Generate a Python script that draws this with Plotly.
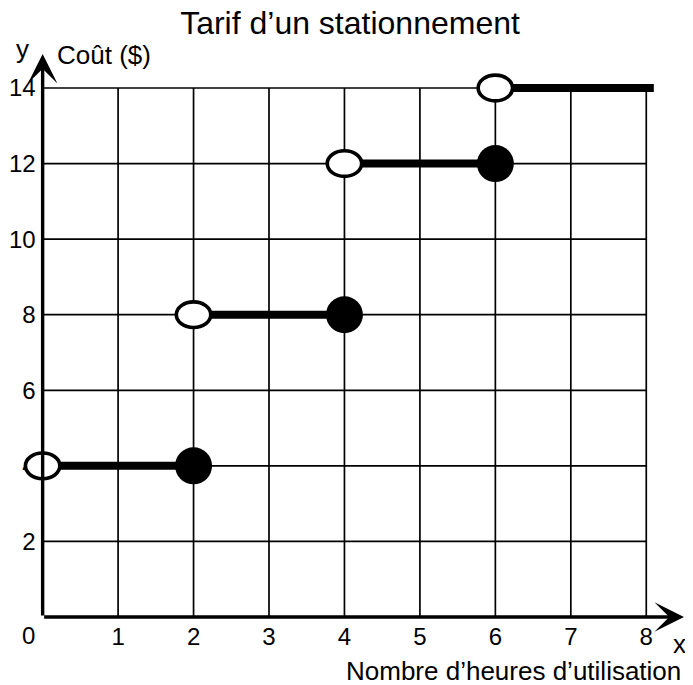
import plotly.graph_objects as go

# ---- data ----
title_text = "Tarif d\u2019un stationnement"
x_label = "Nombre d\u2019heures d\u2019utilisation"
y_label = "Co\u00fbt ($)"
x_ticks = [1, 2, 3, 4, 5, 6, 7, 8]
y_ticks = [2, 4, 6, 8, 10, 12, 14]
seg_start = [0, 2, 4, 6]
seg_end = [2, 4, 6, 8.1]
seg_cost = [4, 8, 12, 14]
open_x = [0, 2, 4, 6]
open_y = [4, 8, 12, 14]
closed_x = [2, 4, 6]
closed_y = [4, 8, 12]

X_MIN, X_MAX = -0.3, 8.5
Y_MAX = 14.9
FONT = "Liberation Sans, Arial, sans-serif"
W, H = 685, 677  # page body adds an 8px offset

fig = go.Figure()

# grid
gx, gy = [], []
for v in x_ticks:
    gx += [v, v, None]
    gy += [0, max(y_ticks), None]
for v in y_ticks:
    gx += [0, max(x_ticks), None]
    gy += [v, v, None]
fig.add_trace(go.Scatter(x=gx, y=gy, mode="lines",
                         line=dict(color="black", width=1.7),
                         hoverinfo="skip", showlegend=False))

# step segments
sx, sy = [], []
for a, b, c in zip(seg_start, seg_end, seg_cost):
    sx += [a, b, None]
    sy += [c, c, None]
fig.add_trace(go.Scatter(x=sx, y=sy, mode="lines",
                         line=dict(color="black", width=8),
                         hoverinfo="skip", showlegend=False))

# closed points
fig.add_trace(go.Scatter(x=closed_x, y=closed_y, mode="markers",
                         marker=dict(color="black", size=37, line=dict(width=0)),
                         cliponaxis=False, showlegend=False))

# open points (ellipses)
rx, ry = 0.228, 0.34
for x, y in zip(open_x, open_y):
    fig.add_shape(type="circle", xref="x", yref="y",
                  x0=x - rx, x1=x + rx, y0=y - ry, y1=y + ry,
                  fillcolor="white", line=dict(color="black", width=3.6),
                  layer="above")

# axes with arrows
arrow = dict(showarrow=True, text="", arrowhead=3, arrowsize=1.45, arrowwidth=3.4,
             arrowcolor="black", axref="x", ayref="y", standoff=0)
fig.add_annotation(x=X_MAX, y=0, ax=0, ay=0, **arrow)
fig.add_annotation(x=0, y=Y_MAX, ax=0, ay=0, **arrow)

# labels
ft = dict(family=FONT, size=24, color="black")
fl = dict(family=FONT, size=26, color="black")
fig.add_annotation(x=0, y=0, text="0", showarrow=False, xshift=-14, yshift=-18,
                   font=ft, xanchor="center", yanchor="middle")
fig.add_annotation(x=0, y=Y_MAX, text="y", showarrow=False, xshift=-20, yshift=5,
                   font=fl, xanchor="center", yanchor="middle")
fig.add_annotation(x=0, y=Y_MAX, text=y_label, showarrow=False, xshift=12, yshift=-1,
                   font=fl, xanchor="left", yanchor="middle")
fig.add_annotation(x=X_MAX, y=0, text="x", showarrow=False, xshift=-5, yshift=-27,
                   font=fl, xanchor="center", yanchor="middle")
fig.add_annotation(x=X_MAX, y=0, text=x_label, showarrow=False, xshift=-1, yshift=-54,
                   font=fl, xanchor="right", yanchor="middle")

fig.update_layout(
    width=W, height=H,
    margin=dict(l=12, r=9, t=46, b=68, autoexpand=False),
    plot_bgcolor="white", paper_bgcolor="white",
    showlegend=False,
    title=dict(text=title_text, font=dict(family=FONT, size=32, color="black"),
               x=342 / W, xref="container", xanchor="center",
               y=1 - 15 / H, yref="container", yanchor="middle"),
    xaxis=dict(range=[X_MIN, X_MAX], showgrid=False, zeroline=False, showline=False,
               tickvals=x_ticks, ticktext=[str(v) for v in x_ticks], ticks="",
               tickfont=ft, ticklabelstandoff=3, layer="below traces",
               automargin=False, fixedrange=True),
    yaxis=dict(range=[0, Y_MAX], showgrid=False, zeroline=False, showline=False,
               anchor="free", position=(0 - X_MIN) / (X_MAX - X_MIN),
               tickvals=y_ticks, ticktext=[str(v) for v in y_ticks], ticks="",
               tickfont=ft, ticklabelstandoff=7, layer="below traces",
               automargin=False, fixedrange=True),
)

fig.write_html("out.html")
